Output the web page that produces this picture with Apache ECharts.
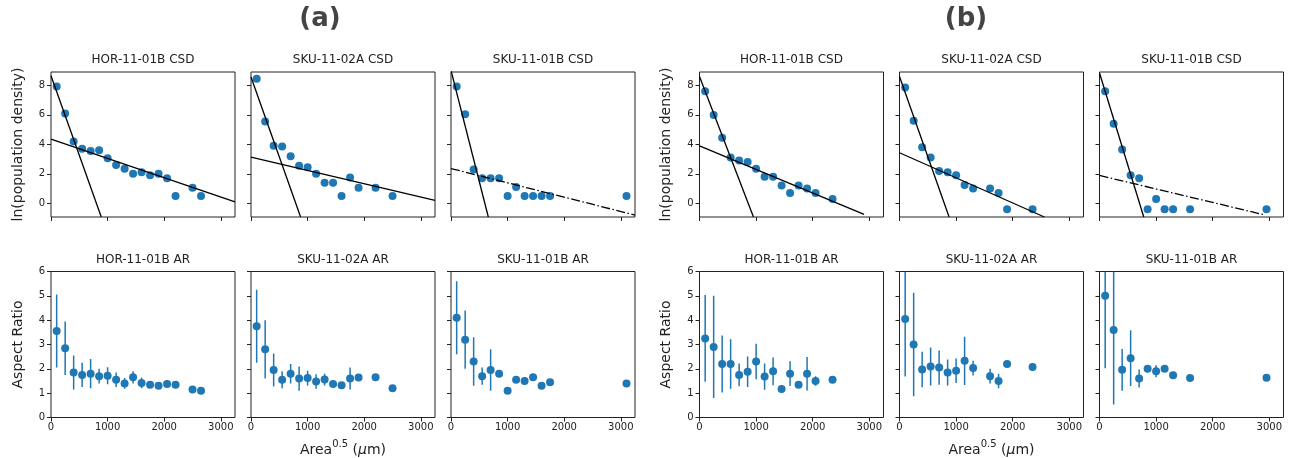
<!DOCTYPE html>
<html>
<head>
<meta charset="utf-8">
<title>CSD and aspect ratio</title>
<script src="https://cdn.jsdelivr.net/npm/echarts@6/dist/echarts.min.js"></script>
<style>
  html, body { margin: 0; padding: 0; background: #fff; }
  #chart { width: 1290px; height: 458px; }
</style>
</head>
<body>
<div id="chart"></div>
<script>
// sample names, three per group: (a) left, (b) right
var sampleNames = ['HOR-11-01B', 'SKU-11-02A', 'SKU-11-01B', 'HOR-11-01B', 'SKU-11-02A', 'SKU-11-01B'];
var groupLabels = ['(a)', '(b)'];

// Area^0.5 bin centres (um) and values, one block per column
var binsA1 = [100, 250, 400, 550, 700, 850, 1000, 1150, 1300, 1450, 1600, 1750, 1900, 2050, 2200, 2500, 2650];
var csdA1 = [7.93, 6.1, 4.2, 3.7, 3.55, 3.6, 3.05, 2.6, 2.35, 2.0, 2.1, 1.9, 2.0, 1.7, 0.5, 1.05, 0.5];
var arA1 = [3.55, 2.85, 1.85, 1.75, 1.8, 1.7, 1.72, 1.55, 1.4, 1.65, 1.42, 1.35, 1.3, 1.38, 1.35, 1.15, 1.1];
var arErrA1 = [1.5, 1.1, 0.7, 0.5, 0.6, 0.3, 0.35, 0.3, 0.22, 0.25, 0.22, 0.12, 0.1, 0.1, 0.05, 0, 0];

var binsA2 = [100, 250, 400, 550, 700, 850, 1000, 1150, 1300, 1450, 1600, 1750, 1900, 2200, 2500];
var csdA2 = [8.46, 5.55, 3.9, 3.85, 3.2, 2.55, 2.45, 2.0, 1.4, 1.4, 0.5, 1.75, 1.05, 1.05, 0.5];
var arA2 = [3.75, 2.8, 1.95, 1.55, 1.8, 1.6, 1.62, 1.48, 1.56, 1.38, 1.33, 1.6, 1.64, 1.65, 1.2];
var arErrA2 = [1.5, 1.2, 0.68, 0.35, 0.4, 0.5, 0.3, 0.3, 0.24, 0.13, 0.05, 0.45, 0.05, 0.05, 0];

var binsA3 = [100, 250, 400, 550, 700, 850, 1000, 1150, 1300, 1450, 1600, 1750, 3100];
var csdA3 = [7.93, 6.05, 2.3, 1.7, 1.7, 1.7, 0.5, 1.1, 0.5, 0.5, 0.5, 0.5, 0.5];
var arA3 = [4.1, 3.2, 2.3, 1.7, 1.95, 1.8, 1.1, 1.55, 1.5, 1.65, 1.3, 1.45, 1.4];
var arErrA3 = [1.5, 1.2, 1.0, 0.35, 0.85, 0, 0, 0, 0, 0, 0, 0, 0];

var binsB1 = [100, 250, 400, 550, 700, 850, 1000, 1150, 1300, 1450, 1600, 1750, 1900, 2050, 2350];
var csdB1 = [7.6, 6.0, 4.45, 3.1, 2.9, 2.8, 2.35, 1.8, 1.8, 1.2, 0.7, 1.2, 1.0, 0.7, 0.3];
var arB1 = [3.25, 2.9, 2.2, 2.2, 1.75, 1.88, 2.3, 1.68, 1.9, 1.17, 1.8, 1.35, 1.8, 1.5, 1.55];
var arErrB1 = [1.78, 2.1, 1.17, 1.02, 0.47, 0.63, 0.73, 0.54, 0.57, 0, 0.51, 0, 0.69, 0.2, 0];

var binsB2 = [100, 250, 400, 550, 700, 850, 1000, 1150, 1300, 1600, 1750, 1900, 2350];
var csdB2 = [7.85, 5.6, 3.8, 3.1, 2.2, 2.1, 1.9, 1.25, 1.0, 1.0, 0.7, -0.4, -0.4];
var arB2 = [4.05, 3.0, 1.97, 2.1, 2.05, 1.85, 1.92, 2.33, 2.03, 1.7, 1.5, 2.2, 2.08];
var arErrB2 = [2.37, 2.13, 0.73, 0.78, 0.7, 0.53, 0.5, 0.99, 0.3, 0.3, 0.3, 0, 0];

var binsB3 = [100, 250, 400, 550, 700, 850, 1000, 1150, 1300, 1600, 2950];
var csdB3 = [7.6, 5.4, 3.65, 1.9, 1.7, -0.4, 0.3, -0.4, -0.4, -0.4, -0.4];
var arB3 = [5.0, 3.6, 1.96, 2.44, 1.6, 2.0, 1.9, 2.0, 1.74, 1.62, 1.63];
var arErrB3 = [2.98, 3.07, 0.86, 1.15, 0.37, 0, 0.25, 0, 0, 0, 0];

// fitted CSD segments, end points in data units [area^0.5, ln density]
var fitSteep = [
  [[0, 8.66], [888, -0.93]],
  [[0, 8.57], [876, -0.93]],
  [[0, 9.02], [659, -0.93]],
  [[0, 8.61], [953, -0.93]],
  [[0, 8.61], [876, -0.93]],
  [[0, 8.84], [782, -0.93]]
];
var fitTail = [
  [[0, 4.36], [3250, 0.1]],
  [[0, 3.14], [3250, 0.2]],
  [[0, 2.36], [3250, -0.8]],
  [[0, 3.89], [2906, -0.75]],
  [[0, 3.43], [2559, -0.93]],
  [[0, 1.89], [2900, -0.77]]
];
var tailDashDot = [false, false, true, false, false, true];

// axis ticks and ranges
var xTicks = [0, 1000, 2000, 3000];
var csdTicks = [0, 2, 4, 6, 8];
var arTicks = [0, 1, 2, 3, 4, 5, 6];
var xRange = [0, 3250];
var csdRange = [-0.93, 8.91];
var arRange = [0, 6];

var bins = [binsA1, binsA2, binsA3, binsB1, binsB2, binsB3];
var csd = [csdA1, csdA2, csdA3, csdB1, csdB2, csdB3];
var ar = [arA1, arA2, arA3, arB1, arB2, arB3];
var arErr = [arErrA1, arErrA2, arErrA3, arErrB1, arErrB2, arErrB3];

var FONT = 'DejaVu Sans';
var BLUE = '#1f77b4';
var INK = '#222';
var colLeft = [51, 251, 451, 699.5, 899.5, 1099.5];
var panelW = 184;
var rowTop = [72, 271.5];
var rowH = [145, 146];

var grids = [], xAxes = [], yAxes = [], series = [], titles = [];

function zip(xs, ys, es) {
  var out = [];
  for (var i = 0; i < xs.length; i++) {
    out.push(es ? [xs[i], ys[i], es[i]] : [xs[i], ys[i]]);
  }
  return out;
}

// plain tick text, no thousands separator
function plain(v) {
  return String(v);
}

function errorBar(params, api) {
  var x = api.value(0), y = api.value(1), e = api.value(2);
  var lo = api.coord([x, y - e]);
  var hi = api.coord([x, y + e]);
  var cs = params.coordSys;
  var top = Math.max(hi[1], cs.y);
  var bot = Math.min(lo[1], cs.y + cs.height);
  return {
    type: 'line',
    shape: { x1: lo[0], y1: bot, x2: lo[0], y2: top },
    style: { stroke: BLUE, lineWidth: 1.5 }
  };
}

for (var row = 0; row < 2; row++) {
  for (var c = 0; c < 6; c++) {
    var g = row * 6 + c;
    var firstCol = (c === 0 || c === 3);
    var midCol = (c === 1 || c === 4);

    grids.push({
      left: colLeft[c], top: rowTop[row], width: panelW, height: rowH[row],
      show: true, borderColor: INK, borderWidth: 1, backgroundColor: 'transparent'
    });

    titles.push({
      text: sampleNames[c] + (row === 0 ? ' CSD' : ' AR'),
      left: colLeft[c] + panelW / 2,
      top: row === 0 ? 54 : 253.5,
      textAlign: 'center',
      padding: 0,
      textStyle: { fontFamily: FONT, fontSize: 12, fontWeight: 'normal', color: INK }
    });

    var xa = {
      type: 'value', gridIndex: g, min: xRange[0], max: xRange[1],
      axisLine: { show: false, onZero: false },
      axisTick: { show: true, inside: false, length: 4, customValues: xTicks, lineStyle: { color: INK } },
      axisLabel: {
        show: row === 1, customValues: xTicks, margin: 5, formatter: plain,
        fontFamily: FONT, fontSize: 10, color: INK
      },
      splitLine: { show: false }
    };
    if (row === 1 && midCol) {
      xa.name = '{t|Area}{s|0.5}{t| (}{m|\u03bc}{t|m)}';
      xa.nameLocation = 'middle';
      xa.nameGap = 22;
      xa.nameTextStyle = {
        rich: {
          t: { fontFamily: FONT, fontSize: 14, color: INK },
          s: { fontFamily: FONT, fontSize: 10, color: INK, padding: [0, 0, 11, 0] },
          m: { fontFamily: FONT, fontSize: 14, fontStyle: 'italic', color: INK }
        }
      };
    }
    xAxes.push(xa);

    var ticks = row === 0 ? csdTicks : arTicks;
    var yr = row === 0 ? csdRange : arRange;
    var ya = {
      type: 'value', gridIndex: g, min: yr[0], max: yr[1],
      axisLine: { show: false, onZero: false },
      axisTick: { show: true, inside: false, length: 4, customValues: ticks, lineStyle: { color: INK } },
      axisLabel: {
        show: firstCol, customValues: ticks, margin: 6, formatter: plain,
        fontFamily: FONT, fontSize: 10, color: INK
      },
      splitLine: { show: false }
    };
    if (firstCol) {
      ya.name = row === 0 ? 'ln(population density)' : 'Aspect Ratio';
      ya.nameLocation = 'middle';
      ya.nameGap = 26;
      ya.nameTextStyle = { fontFamily: FONT, fontSize: 14, color: INK };
    }
    yAxes.push(ya);

    if (row === 0) {
      series.push({
        type: 'scatter', xAxisIndex: g, yAxisIndex: g, z: 2,
        symbolSize: 8, itemStyle: { color: BLUE, opacity: 1 },
        data: zip(bins[c], csd[c])
      });
      series.push({
        type: 'line', xAxisIndex: g, yAxisIndex: g, z: 3, clip: true,
        symbol: 'none', lineStyle: { color: '#000', width: 1.3 },
        data: fitSteep[c]
      });
      series.push({
        type: 'line', xAxisIndex: g, yAxisIndex: g, z: 3, clip: true,
        symbol: 'none',
        lineStyle: { color: '#000', width: 1.3, type: tailDashDot[c] ? [9, 2.5, 1.5, 2.5] : 'solid' },
        data: fitTail[c]
      });
    } else {
      series.push({
        type: 'custom', xAxisIndex: g, yAxisIndex: g, z: 2, clip: true,
        renderItem: errorBar,
        data: zip(bins[c], ar[c], arErr[c])
      });
      series.push({
        type: 'scatter', xAxisIndex: g, yAxisIndex: g, z: 3,
        symbolSize: 8, itemStyle: { color: BLUE, opacity: 1 },
        data: zip(bins[c], ar[c])
      });
    }
  }
}

// group labels (a) and (b)
titles.push({
  text: groupLabels[0], left: 320, top: 6, textAlign: 'center', padding: 0,
  textStyle: { fontFamily: FONT, fontSize: 26, fontWeight: 'bold', color: '#444' }
});
titles.push({
  text: groupLabels[1], left: 966, top: 6, textAlign: 'center', padding: 0,
  textStyle: { fontFamily: FONT, fontSize: 26, fontWeight: 'bold', color: '#444' }
});

var myChart = echarts.init(document.getElementById('chart'), null, { renderer: 'canvas' });
myChart.setOption({
  animation: false,
  backgroundColor: '#fff',
  title: titles,
  grid: grids,
  xAxis: xAxes,
  yAxis: yAxes,
  series: series
});
</script>
</body>
</html>
